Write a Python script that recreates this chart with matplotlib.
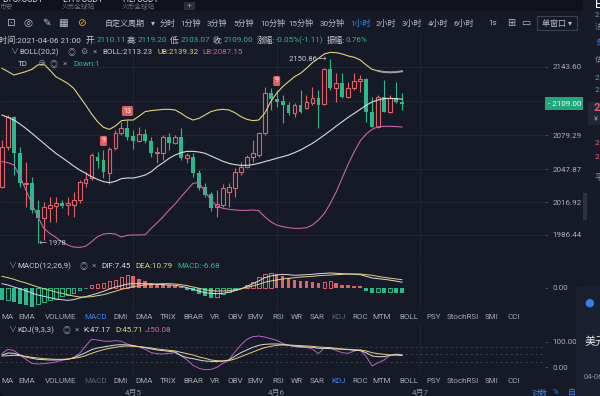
import numpy as np
import matplotlib.pyplot as plt
import matplotlib.transforms as mtransforms
from matplotlib.patches import Rectangle
from matplotlib.lines import Line2D

plt.rcParams['font.family'] = ['Roboto', 'Noto Sans CJK SC', 'DejaVu Sans']

# ---- data (1h candles, 04-04 02:00 .. 04-06 21:00) ----
open_ = [2031.4, 2068.8, 2096.2, 2062.6, 2033.9, 2034.5, 2009.6, 2001.8, 2011.1, 2013.3,
         2016.4, 2014.2, 2014.2, 2018.9, 2035.1, 2039.2, 2059.5, 2056.3, 2044.5, 2067.2,
         2081.9, 2085.9, 2078.8, 2074.4, 2080.3, 2074.4, 2062.6, 2063.2, 2078.2, 2071.9,
         2077.5, 2057.9, 2058.8, 2044.5, 2030.8, 2024.5, 2012.1, 2014.2, 2026.7, 2029.8,
         2045.4, 2050.1, 2058.8, 2061.0, 2081.3, 2118.7, 2113.1, 2111.5, 2107.8, 2100.0,
         2107.8, 2104.7, 2109.3, 2114.0, 2108.7, 2141.1, 2123.4, 2128.7, 2115.6, 2123.4,
         2130.5, 2131.8, 2101.6, 2087.5, 2115.6, 2101.6, 2114.0, 2110.11]
high = [2075.0, 2098.4, 2097.5, 2068.8, 2054.8, 2040.7, 2018.9, 2017.4, 2022.0, 2022.0,
        2018.9, 2022.0, 2026.7, 2037.6, 2045.4, 2062.6, 2064.1, 2065.7, 2068.2, 2084.4,
        2092.2, 2093.7, 2084.4, 2086.9, 2085.0, 2078.2, 2068.8, 2079.7, 2081.3, 2079.7,
        2085.9, 2062.6, 2062.6, 2047.0, 2034.5, 2026.7, 2028.3, 2033.9, 2034.5, 2048.5,
        2054.8, 2061.0, 2075.0, 2082.8, 2124.9, 2123.4, 2121.8, 2117.1, 2110.9, 2109.3,
        2121.8, 2117.1, 2124.9, 2121.8, 2142.1, 2150.86, 2137.4, 2137.4, 2129.6, 2137.4,
        2135.8, 2132.7, 2115.6, 2117.1, 2131.2, 2117.1, 2129.6, 2119.20]
low = [2029.8, 2065.7, 2042.3, 2031.4, 2012.7, 2006.5, 1978.9, 1981.5, 1998.6, 1998.6,
       2011.1, 2004.9, 2003.3, 2015.8, 2031.4, 2037.6, 2048.5, 2039.2, 2033.9, 2065.7,
       2079.7, 2075.0, 2066.3, 2073.5, 2071.9, 2059.5, 2053.8, 2056.3, 2065.7, 2071.3,
       2056.3, 2053.2, 2040.1, 2028.3, 2021.4, 2008.9, 2003.3, 2012.7, 2012.7, 2022.0,
       2042.3, 2048.5, 2054.8, 2059.5, 2079.7, 2103.1, 2106.2, 2090.6, 2098.4, 2096.2,
       2100.6, 2103.7, 2107.8, 2085.9, 2107.8, 2121.8, 2110.9, 2114.0, 2114.0, 2121.8,
       2120.2, 2092.2, 2086.9, 2085.9, 2101.6, 2100.6, 2109.3, 2103.07]
close = [2068.8, 2096.2, 2062.6, 2034.5, 2035.1, 2009.6, 2001.8, 2012.1, 2014.2, 2015.8,
         2013.3, 2016.4, 2018.9, 2036.1, 2038.2, 2061.0, 2055.7, 2045.4, 2066.3, 2081.9,
         2085.9, 2078.2, 2074.4, 2080.3, 2074.4, 2062.6, 2064.1, 2078.2, 2071.9, 2077.5,
         2057.9, 2061.0, 2044.5, 2029.8, 2023.6, 2011.1, 2015.2, 2029.8, 2031.4, 2045.4,
         2050.1, 2059.5, 2062.6, 2081.3, 2118.7, 2113.1, 2110.9, 2107.8, 2100.0, 2107.8,
         2101.6, 2110.9, 2114.0, 2107.8, 2141.1, 2123.4, 2128.7, 2115.0, 2123.4, 2130.5,
         2131.8, 2101.6, 2087.5, 2115.0, 2101.6, 2114.0, 2110.9, 2109.00]

boll_up = [2142.1, 2139.0, 2135.8, 2137.4, 2139.0, 2141.1, 2145.2, 2146.1, 2140.5, 2134.3,
           2131.2, 2128.0, 2123.4, 2115.6, 2107.8, 2099.4, 2092.2, 2086.9, 2085.0, 2088.1,
           2093.1, 2093.7, 2093.7, 2097.5, 2101.6, 2102.5, 2103.1, 2103.7, 2103.7, 2103.1,
           2100.0, 2096.2, 2093.7, 2095.3, 2098.4, 2101.6, 2103.1, 2103.7, 2103.1, 2100.6,
           2096.9, 2094.4, 2093.1, 2093.7, 2100.0, 2110.9, 2118.7, 2124.9, 2129.6, 2134.3,
           2137.4, 2142.1, 2147.4, 2151.4, 2155.5, 2157.0, 2156.7, 2155.5, 2153.6, 2152.4,
           2149.9, 2145.2, 2141.1, 2139.6, 2138.6, 2138.3, 2138.5, 2139.32]
boll_mid = [2098.4, 2096.2, 2093.7, 2090.0, 2085.9, 2081.3, 2076.6, 2071.9, 2067.2, 2062.6,
            2058.8, 2054.8, 2050.7, 2047.0, 2043.9, 2040.7, 2038.2, 2036.1, 2035.1, 2036.4,
            2038.9, 2039.5, 2039.5, 2040.7, 2042.3, 2045.4, 2050.1, 2053.8, 2057.9, 2061.0,
            2063.2, 2064.4, 2064.4, 2063.8, 2062.6, 2060.1, 2057.6, 2055.1, 2053.2, 2052.0,
            2051.3, 2051.3, 2052.0, 2053.2, 2054.8, 2056.3, 2057.9, 2059.4, 2061.0, 2063.2,
            2065.7, 2068.8, 2071.9, 2075.7, 2079.7, 2083.8, 2088.1, 2092.2, 2096.2, 2100.0,
            2103.7, 2107.5, 2110.6, 2112.5, 2113.7, 2114.0, 2113.7, 2113.23]
boll_lo = [2054.8, 2053.8, 2051.7, 2040.7, 2028.3, 2015.8, 2003.3, 1992.4, 1987.7, 1984.0,
           1979.9, 1976.8, 1974.9, 1974.6, 1975.6, 1979.9, 1984.6, 1987.1, 1987.7, 1987.1,
           1984.3, 1985.9, 1986.2, 1986.2, 1986.5, 1992.4, 1997.7, 2003.3, 2009.6, 2015.2,
           2022.0, 2028.3, 2034.5, 2035.1, 2026.7, 2018.9, 2013.3, 2011.1, 2010.2, 2009.6,
           2009.2, 2009.2, 2009.6, 2008.9, 2003.3, 1998.6, 1995.5, 1994.0, 1993.0, 1992.4,
           1992.4, 1993.0, 1995.5, 2000.2, 2006.4, 2015.8, 2026.7, 2039.8, 2052.6, 2064.1,
           2074.1, 2080.6, 2085.0, 2087.5, 2087.8, 2087.8, 2087.6, 2087.15]

macd_hist = [-15.6, -15.2, -18.2, -21.2, -22.5, -24.7, -20.4, -18.2, -16.0, -13.9,
             -10.8, -8.7, -6.1, -2.2, -0.5, 3.5, 5.6, 6.9, 9.1, 10.8,
             14.3, 16.5, 15.2, 12.1, 9.1, 6.9, 5.6, 5.4, 4.3, 3.0,
             1.3, -2.2, -3.9, -7.4, -10.4, -12.6, -11.7, -8.2, -5.2, -2.2,
             -0.4, 3.9, 7.8, 14.3, 18.2, 19.5, 17.8, 15.2, 13.4, 10.8,
             9.1, 9.0, 7.8, 6.9, 7.8, 8.7, 6.9, 4.3, 3.5, 2.6,
             2.2, -3.9, -6.5, -5.2, -6.5, -5.6, -6.1, -6.68]
dif = [5.6, 3.9, 1.3, -0.9, -3.5, -6.5, -9.1, -10.8, -12.6, -14.3,
       -15.2, -16.0, -15.2, -13.0, -11.3, -9.1, -6.9, -4.3, -1.3, 1.3,
       3.0, 5.2, 5.6, 5.6, 5.6, 5.2, 4.8, 4.3, 3.9, 3.5,
       2.2, 0.4, -1.7, -3.9, -6.1, -6.9, -7.4, -6.9, -5.6, -3.5,
       -1.3, 2.2, 5.6, 9.1, 13.4, 15.6, 16.9, 17.8, 17.3, 16.5,
       16.9, 17.3, 17.8, 18.6, 19.1, 19.5, 19.1, 18.6, 18.2, 17.8,
       17.3, 15.2, 13.0, 12.1, 11.3, 10.2, 9.0, 7.45]
dea = [15.2, 13.4, 11.3, 8.7, 6.5, 3.9, 1.3, -0.9, -3.0, -5.2,
       -6.9, -8.7, -10.4, -11.7, -11.7, -11.3, -10.0, -8.7, -6.5, -4.3,
       -1.7, 0.0, 1.7, 3.0, 3.9, 4.8, 5.2, 5.6, 5.6, 5.2,
       4.3, 3.0, 1.3, -0.4, -2.2, -3.5, -3.9, -3.9, -3.5, -2.2,
       -0.9, 0.9, 2.6, 4.8, 7.4, 9.1, 10.4, 11.7, 12.6, 13.4,
       14.3, 14.7, 15.2, 16.0, 16.5, 16.9, 17.3, 17.8, 18.2, 18.2,
       18.2, 17.3, 16.5, 15.0, 13.8, 12.8, 11.8, 10.79]

kdj_k = [48.0, 55.8, 54.5, 48.0, 40.2, 35.0, 31.1, 29.8, 28.5, 28.5,
         29.8, 31.1, 37.6, 46.7, 57.1, 68.9, 75.4, 79.3, 83.2, 87.1,
         88.4, 87.1, 84.5, 80.6, 76.7, 71.5, 67.6, 65.0, 62.4, 59.7,
         45.4, 37.6, 33.7, 28.5, 24.6, 23.3, 22.0, 24.6, 28.5, 42.8,
         57.1, 67.6, 78.0, 85.8, 89.7, 91.0, 91.0, 89.7, 85.8, 83.2,
         80.6, 79.3, 78.0, 74.1, 74.1, 72.8, 71.5, 70.2, 68.9, 66.3,
         65.0, 57.1, 44.1, 41.5, 41.5, 46.7, 49.3, 47.17]
kdj_d = [44.1, 45.4, 46.7, 45.4, 42.8, 38.9, 36.3, 33.7, 32.4, 31.1,
         31.1, 32.4, 35.0, 38.9, 45.4, 54.5, 62.4, 68.9, 74.1, 78.0,
         81.9, 83.2, 81.9, 80.6, 78.0, 75.4, 71.5, 68.9, 66.3, 63.7,
         58.4, 53.2, 48.0, 40.2, 35.0, 28.5, 25.9, 24.6, 25.9, 32.4,
         41.5, 50.6, 59.7, 68.9, 76.7, 81.9, 85.8, 87.1, 87.1, 85.8,
         84.5, 83.2, 81.9, 79.3, 78.0, 76.7, 74.1, 71.5, 70.2, 68.9,
         67.6, 63.7, 57.1, 53.2, 50.6, 48.0, 48.0, 45.71]
kdj_j = [54.5, 70.2, 65.0, 48.0, 31.1, 15.5, 12.9, 14.2, 16.8, 20.7,
         27.2, 31.1, 37.6, 54.5, 83.2, 109.2, 106.6, 102.7, 101.4, 104.0,
         101.4, 91.0, 84.5, 79.3, 70.2, 57.1, 53.2, 51.9, 54.5, 57.1,
         45.4, 28.5, 7.7, -4.1, -9.3, -8.0, -0.1, 15.5, 28.5, 59.7,
         87.1, 109.2, 119.6, 122.2, 118.3, 111.8, 105.3, 93.6, 85.8, 80.6,
         78.0, 78.0, 71.5, 53.2, 76.7, 75.4, 65.0, 57.1, 54.5, 63.7,
         67.6, 41.5, 5.1, 18.1, 28.5, 46.7, 51.9, 50.08]

td_marks = [(17, '9'), (21, '13'), (46, '9')]
price_ticks = [1986.44, 2016.92, 2047.87, 2079.29, 2111.45, 2143.60]
price_labels = ['1986.44', '2016.92', '2047.87', '2079.29', '', '2143.60']
day_idx = [22, 46, 70]
day_labels = ['4月5', '4月6', '4月7']
periods = ['自定义周期', '▾', '分时', '1分钟', '3分钟', '5分钟', '10分钟', '15分钟',
           '30分钟', '1小时', '2小时', '3小时', '4小时', '6小时', '1s']
period_x = [105, 151, 160, 180, 207, 233, 260, 288, 320, 350, 376, 402, 428, 454, 488]
indicators = ['MA', 'EMA', 'VOLUME', 'MACD', 'DMI', 'DMA', 'TRIX', 'BRAR', 'VR', 'OBV', 'EMV',
              'RSI', 'WR', 'SAR', 'KDJ', 'ROC', 'MTM', 'BOLL', 'PSY', 'StochRSI', 'SMI', 'CCI']
indicator_x = [7, 27, 61, 96, 121, 144, 168, 193, 215, 235, 256, 278, 297, 317, 339, 360,
               382, 409, 434, 463, 492, 514]

# ---- colours ----
BG = '#161a26'
GRID = '#222837'
SEP = '#262c3a'
UP = '#e0616c'
DN = '#2bb88a'
YEL = '#e2d27c'
PINK = '#c565a6'
WHITE = '#d9dbe0'
LBL = '#c8ccd4'
GREY = '#8c92a0'
BLUE = '#3d84ee'

W, H = 600, 396
fig = plt.figure(figsize=(6, 3.96), dpi=100, facecolor=BG)
renderer = fig.canvas.get_renderer()


def fx(px):
    return px / W


def fy(py):
    return 1 - py / H


def pane(x0, y0, x1, y1):
    a = fig.add_axes([fx(x0), fy(y1), (x1 - x0) / W, (y1 - y0) / H])
    a.set_facecolor(BG)
    for s in a.spines.values():
        s.set_visible(False)
    a.set_xlim(-0.335, 90.95)
    a.set_xticks([])
    for d in day_idx:
        a.axvline(d, color=GRID, lw=0.6, zorder=0)
    return a


def ftext(x, y, s, color=LBL, size=5.6, **kw):
    return fig.text(fx(x), fy(y), s, color=color, fontsize=size, ha=kw.pop('ha', 'left'),
                    va=kw.pop('va', 'center'), **kw)


def row(y, items, size=5.6, gap=1.0):
    # place segments left to right, never overlapping the previous one
    cur = -100
    for xx, s, col in items:
        xx = cur + gap if xx is None else max(xx, cur + gap)
        t = ftext(xx, y, s, color=col, size=size)
        cur = t.get_window_extent(renderer).x1 * W / fig.bbox.width


idx = np.arange(len(close))
o = np.array(open_)
c = np.array(close)
up = c >= o

# ---- main price pane ----
ax = pane(0, 33, 545, 257)
ax.set_ylim(1965.6, 2175.1)
ax.set_yticks(price_ticks)
ax.set_yticklabels(price_labels)
ax.yaxis.tick_right()
ax.tick_params(axis='y', length=2.5, width=0.6, color='#4a5162', labelcolor='#a9aebb',
               labelsize=5.8, pad=3)
ax.grid(axis='y', color=GRID, lw=0.6)

ax.vlines(idx, low, high, colors=np.where(up, UP, DN), lw=0.8, zorder=3)
bot = np.minimum(o, c)
hgt = np.maximum(np.abs(c - o), 0.6)
ax.bar(idx[up], hgt[up], bottom=bot[up], width=0.64, facecolor=BG, edgecolor=UP,
       linewidth=0.8, zorder=4)
ax.bar(idx[~up], hgt[~up], bottom=bot[~up], width=0.64, color=DN, linewidth=0, zorder=4)

ax.plot(idx, boll_up, color=YEL, lw=0.8, zorder=5)
ax.plot(idx, boll_mid, color=WHITE, lw=0.8, zorder=5)
ax.plot(idx, boll_lo, color=PINK, lw=0.8, zorder=5)
ax.plot(idx[63:], boll_up[63:], color='#9c9c9c', lw=1.4, zorder=5)

for i, s in td_marks:
    ax.annotate(s, xy=(i, high[i]), xytext=(0, 6.5), textcoords='offset points',
                ha='center', va='center', color='white', fontsize=5, zorder=6,
                bbox=dict(boxstyle='round,pad=0.22', fc='#de5f62', ec='none'))

ax.annotate('← 1978', xy=(6, low[6]), xytext=(1, 0), textcoords='offset points',
            ha='left', va='center', color='#c9ccd3', fontsize=5.6, zorder=6)
ax.annotate('2150.86 →', xy=(55, high[55]), xytext=(-3, 0), textcoords='offset points',
            ha='right', va='center', color='#c9ccd3', fontsize=5.6, zorder=6)

# current price tag
bt = mtransforms.blended_transform_factory(ax.transAxes, ax.transData)
ax.add_patch(Rectangle((1.0, close[-1] - 5.8), 39 / 545, 11.6, transform=bt,
                       fc='#22a67c', ec='none', clip_on=False, zorder=6))
ax.text(1.0 + 3 / 545, close[-1], '- %.2f' % close[-1], transform=bt, color='white',
        fontsize=5.8, ha='left', va='center', zorder=7)

# ---- MACD pane ----
am = pane(0, 259, 545, 310)
am.set_ylim(-28.6, 37.7)
am.set_yticks([0])
am.set_yticklabels(['0.00'])
am.yaxis.tick_right()
am.tick_params(axis='y', length=2.5, width=0.6, color='#4a5162', labelcolor='#a9aebb',
               labelsize=5.8, pad=3)
hist = np.array(macd_hist)
for i, v in enumerate(hist):
    col = UP if v >= 0 else DN
    rising = i > 0 and v > hist[i - 1]
    if rising:
        am.bar(i, v, width=0.62, facecolor=BG, edgecolor=col, linewidth=0.7)
    else:
        am.bar(i, v, width=0.62, color=col, linewidth=0)
am.plot(idx, dif, color=WHITE, lw=0.7)
am.plot(idx, dea, color=YEL, lw=0.7)

# ---- KDJ pane ----
ak = pane(0, 323, 545, 374)
ak.set_ylim(-26.2, 173)
ak.set_yticks([0, 100])
ak.set_yticklabels(['0.00', '100.00'])
ak.yaxis.tick_right()
ak.tick_params(axis='y', length=2.5, width=0.6, color='#4a5162', labelcolor='#a9aebb',
               labelsize=5.8, pad=3)
for lv in (20, 50, 80):
    ak.axhline(lv, color='#3a4151', lw=0.6, dashes=(3, 3))
ak.plot(idx, kdj_j, color='#b763c4', lw=0.7)
ak.plot(idx, kdj_k, color=WHITE, lw=0.7)
ak.plot(idx, kdj_d, color=YEL, lw=0.7)

# dates (cut by the bottom edge, as in the screenshot)
dt = mtransforms.blended_transform_factory(ak.transData, fig.transFigure)
for d, s in zip(day_idx, day_labels):
    ak.text(d, fy(392.5), s, transform=dt, color=GREY, fontsize=5.8, ha='center',
            va='center', clip_on=False)

# ---- chrome ----
fig.patches.append(Rectangle((0, fy(11)), 1, 11 / H, transform=fig.transFigure,
                             fc='#10131b', ec='none'))
for yy in (33, 258, 310.5, 323, 374, 387):
    fig.lines.append(Line2D([0, fx(583)], [fy(yy)] * 2, color=SEP, lw=0.7))
fig.lines.append(Line2D([fx(545)] * 2, [fy(33), fy(387)], color=SEP, lw=0.8))
fig.patches.append(Rectangle((fx(583), 0), fx(17), 1, transform=fig.transFigure,
                             fc='#171b27', ec='none'))
fig.lines.append(Line2D([fx(583.5)] * 2, [0, 1], color='#0c0e14', lw=2))

# top tabs (cut by the top edge)
ftext(2, 0, 'BTC/USDT', color='#d0d3da', size=6.2)
ftext(62, 0, 'ETH/USDT', color='#d0d3da', size=6.2)
ftext(122, 0, 'FIL/USDT', color='#d0d3da', size=6.2)
ftext(0, 7.8, '币安', color='#6b7180', size=4.8)
ftext(62, 7.8, '火币全球站', color='#6b7180', size=4.8)
ftext(122, 7.8, '火币全球站', color='#6b7180', size=4.8)
fig.patches.append(Rectangle((fx(184), fy(10)), fx(11), 8 / H, transform=fig.transFigure,
                             fc='#2a2f3c', ec='none'))
ftext(189.5, 5.5, '+', color='#9aa0ac', size=6, ha='center')

# toolbar
for xx, g, col in [(10, '⊡', '#b9bdc7'), (28, '◎', '#b9bdc7'), (46, '✎', '#b9bdc7'),
                   (63, '▦', '#b9bdc7'), (81, '⊘', '#e79b36')]:
    fig.text(fx(xx), fy(23), g, color=col, fontsize=7.5, ha='center', va='center',
             family='DejaVu Sans')
row(23, [(xx, s, BLUE if s == '1小时' else '#b9bdc7') for xx, s in zip(period_x, periods)],
    size=5.8)
fig.text(fx(511), fy(23), '⊞', color='#b9bdc7', fontsize=7, ha='center', va='center',
         family='DejaVu Sans')
fig.text(fx(526), fy(23), '▭', color='#b9bdc7', fontsize=7, ha='center', va='center',
         family='DejaVu Sans')
fig.patches.append(Rectangle((fx(537), fy(30)), fx(40), 14 / H, transform=fig.transFigure,
                             fc='none', ec='#3b4253', lw=0.8))
ftext(557, 23, '单窗口 ▾', color='#b9bdc7', size=5.8, ha='center')

# info line
row(40, [(-1, '时间:2021-04-06 21:00', LBL), (86, '开:', LBL), (None, '2110.11', DN),
         (127, '高:', LBL), (None, '2119.20', DN), (170, '低:', LBL), (None, '2103.07', DN),
         (213, '收:', LBL), (None, '2109.00', DN), (257, '涨幅:', LBL),
         (None, '-0.05%(-1.11)', DN), (327, '振幅:', LBL), (None, '0.76%', DN)],
    size=5.9, gap=0.6)

row(52, [(10, '∨', GREY), (18, 'BOLL(20,2)', LBL), (68, '◎', GREY), (80, '⚙', GREY),
         (93, '×', GREY), (102, 'BOLL:2113.23', LBL), (157, 'UB:2139.32', YEL),
         (202, 'LB:2087.15', PINK)], size=5.8)
row(63.5, [(18, 'TD', LBL), (38, '⊖', GREY), (50, '◎', GREY), (63, '×', GREY),
           (73, 'Down:1', DN)], size=5.8)
row(266, [(8, '∨', GREY), (17, 'MACD(12,26,9)', LBL), (80, '◎', GREY), (92, '×', GREY),
          (101, 'DIF:7.45', WHITE), (135, 'DEA:10.79', YEL), (177, 'MACD:-6.68', DN)],
    size=5.8)
row(330, [(8, '∨', GREY), (17, 'KDJ(9,3,3)', LBL), (63, '◎', GREY), (75, '×', GREY),
          (83, 'K:47.17', WHITE), (115, 'D:45.71', YEL), (145, 'J:50.08', '#cf6bb4')],
    size=5.8)

# indicator tab rows
for yy, active, dim in [(316.7, 'MACD', 'KDJ'), (380.7, 'KDJ', 'MACD')]:
    for xx, s in zip(indicator_x, indicators):
        col = BLUE if s == active else ('#5b6170' if s == dim else '#a3a8b3')
        ftext(xx, yy, s, color=col, size=5.8, ha='center')

# bottom right
row(392.5, [(532, '对数', BLUE), (553, '%', BLUE), (568, '自', BLUE)], size=5.8)

# right side panel fragments
for yy, s, col, sz in [(4, 'E', 'white', 9), (15, '2', GREY, 5.5), (26, '法', GREY, 5.5),
                       (43, '多', BLUE, 6), (59, '估', GREY, 5.5), (78, '2', DN, 6),
                       (90, '2', DN, 6), (143, '2', UP, 6), (157, '2', UP, 6),
                       (177, '平', GREY, 6)]:
    ftext(595, yy, s, color=col, size=sz)
fig.patches.append(Rectangle((fx(588), fy(125)), fx(12), 23 / H, transform=fig.transFigure,
                             fc='#222736', ec='none'))
ftext(594, 108, '2', color=UP, size=8, weight='bold')
ftext(594, 119, '¥', color=GREY, size=5.5)
fig.patches.append(Rectangle((fx(583), fy(220)), fx(4), 27 / H, transform=fig.transFigure,
                             fc='#2c3240', ec='none'))
# notification popup
fig.patches.append(Rectangle((fx(576), 0), fx(24), fy(287), transform=fig.transFigure,
                             fc='#1b2030', ec='none'))
fig.lines.append(Line2D([fx(576), 1], [fy(287)] * 2, color=BLUE, lw=1.0))
fig.text(fx(589), fy(303), '●', color='#3b7fe6', fontsize=8, ha='center', va='center',
         family='DejaVu Sans')
ftext(585, 342, '美元', color='#e6e8ec', size=8)
ftext(584, 377, '04-06', color=GREY, size=5.5)

fig.savefig('out.png', dpi=100, facecolor=BG)
